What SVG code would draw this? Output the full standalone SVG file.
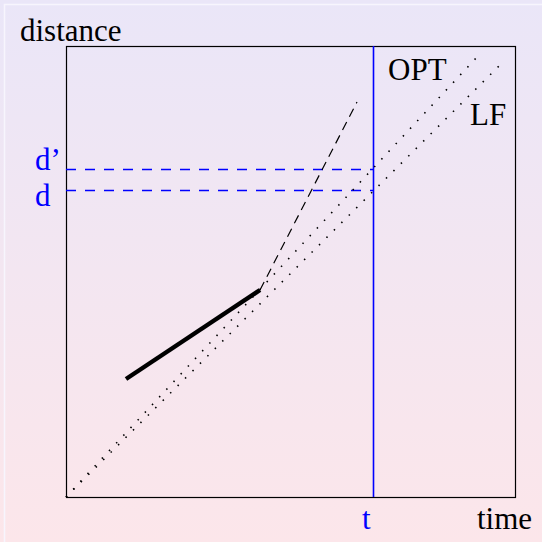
<svg xmlns="http://www.w3.org/2000/svg" width="542" height="542" viewBox="0 0 542 542">
<defs>
<linearGradient id="bg" x1="0" y1="0" x2="0" y2="1">
<stop offset="0" stop-color="#EAE6F8"/>
<stop offset="1" stop-color="#FCE6EA"/>
</linearGradient>
</defs>
<style>
text{font-family:"Liberation Serif","Times New Roman",serif;font-size:31px}
.k{fill:#000}
.b{fill:#0000FF}
.frame{fill:none;stroke:#000;stroke-width:1.2}
.dot{fill:none;stroke:#000;stroke-width:1.6;stroke-dasharray:1.5 9}
.dash{fill:none;stroke:#000;stroke-width:1.2;stroke-dasharray:9 6}
.bdash{fill:none;stroke:#0000FF;stroke-width:1.6;stroke-dasharray:10 9}
.bline{fill:none;stroke:#0000FF;stroke-width:1.6}
</style>
<rect x="0" y="0" width="542" height="542" fill="url(#bg)"/>
<path d="M4.5 542V4.5H542" fill="none" stroke="#F7F5FD" stroke-width="1.5"/>
<g id="axes">
<rect class="frame" x="66.5" y="46.5" width="449" height="451"/>
<text class="k" x="20" y="41">distance</text>
<text class="k" x="477" y="529">time</text>
</g>
<g id="connectors">
<line class="bline" x1="373.5" y1="46" x2="373.5" y2="497"/>
<line class="bdash" x1="66" y1="169.5" x2="373" y2="169.5"/>
<line class="bdash" x1="66" y1="190.5" x2="373" y2="190.5"/>
<line class="dot" x1="66" y1="497" x2="478" y2="56"/>
<line class="dot" x1="66" y1="497" x2="503" y2="62"/>
<line class="dash" x1="260" y1="290" x2="357" y2="102"/>
<line x1="126" y1="379" x2="260" y2="290" stroke="#000" stroke-width="4.5"/>
</g>
<g id="labels">
<text class="k" x="388" y="80">OPT</text>
<text class="k" x="470" y="125">LF</text>
<text class="b" x="35" y="170">d’</text>
<text class="b" x="35" y="206">d</text>
<text class="b" x="362" y="529">t</text>
</g>
</svg>
